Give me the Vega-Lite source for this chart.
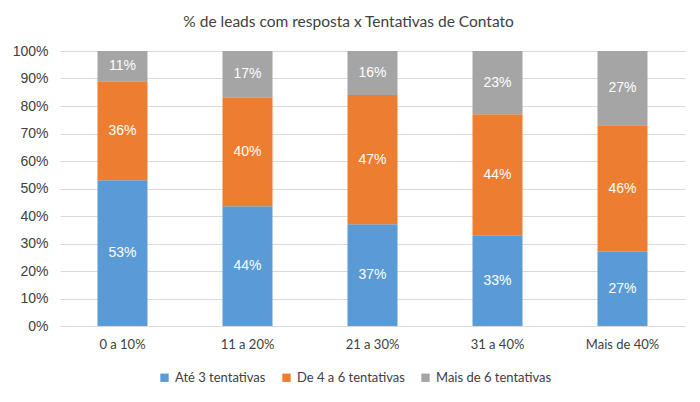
{
  "$schema": "https://vega.github.io/schema/vega-lite/v6.json",
  "width": 625,
  "height": 275,
  "autosize": {"type": "none"},
  "padding": {"left": 60, "top": 51, "right": 15, "bottom": 76},
  "background": "white",
  "title": {
    "text": "% de leads com resposta x Tentativas de Contato",
    "font": "Lato",
    "fontSize": 15.5,
    "fontWeight": "normal",
    "color": "#404040",
    "anchor": "middle",
    "frame": "bounds",
    "offset": 14
  },
  "data": {
    "values": [
      {"faixa": "0 a 10%", "serie": "Até 3 tentativas", "ordem": 1, "value": 0.53},
      {"faixa": "0 a 10%", "serie": "De 4 a 6 tentativas", "ordem": 2, "value": 0.36},
      {"faixa": "0 a 10%", "serie": "Mais de 6 tentativas", "ordem": 3, "value": 0.11},
      {"faixa": "11 a 20%", "serie": "Até 3 tentativas", "ordem": 1, "value": 0.44},
      {"faixa": "11 a 20%", "serie": "De 4 a 6 tentativas", "ordem": 2, "value": 0.40},
      {"faixa": "11 a 20%", "serie": "Mais de 6 tentativas", "ordem": 3, "value": 0.17},
      {"faixa": "21 a 30%", "serie": "Até 3 tentativas", "ordem": 1, "value": 0.37},
      {"faixa": "21 a 30%", "serie": "De 4 a 6 tentativas", "ordem": 2, "value": 0.47},
      {"faixa": "21 a 30%", "serie": "Mais de 6 tentativas", "ordem": 3, "value": 0.16},
      {"faixa": "31  a 40%", "serie": "Até 3 tentativas", "ordem": 1, "value": 0.33},
      {"faixa": "31  a 40%", "serie": "De 4 a 6 tentativas", "ordem": 2, "value": 0.44},
      {"faixa": "31  a 40%", "serie": "Mais de 6 tentativas", "ordem": 3, "value": 0.23},
      {"faixa": "Mais de 40%", "serie": "Até 3 tentativas", "ordem": 1, "value": 0.27},
      {"faixa": "Mais de 40%", "serie": "De 4 a 6 tentativas", "ordem": 2, "value": 0.46},
      {"faixa": "Mais de 40%", "serie": "Mais de 6 tentativas", "ordem": 3, "value": 0.27}
    ]
  },
  "encoding": {
    "x": {
      "field": "faixa",
      "type": "nominal",
      "sort": null,
      "scale": {"paddingInner": 0.6, "paddingOuter": 0.3},
      "axis": {
        "title": null,
        "labelAngle": 0,
        "labelFont": "Lato",
        "labelFontSize": 13,
        "labelColor": "#404040",
        "labelPadding": 12,
        "ticks": false,
        "domain": false
      }
    },
    "y": {
      "field": "value",
      "type": "quantitative",
      "stack": "normalize",
      "scale": {"domain": [0, 1], "nice": false},
      "axis": {
        "title": null,
        "format": ".0%",
        "values": [0, 0.1, 0.2, 0.3, 0.4, 0.5, 0.6, 0.7, 0.8, 0.9, 1],
        "labelFont": "Liberation Sans",
        "labelFontSize": 14,
        "labelColor": "#404040",
        "labelPadding": 12,
        "ticks": false,
        "domain": false,
        "gridColor": "#D9D9D9",
        "gridWidth": 1
      }
    },
    "order": {"field": "ordem", "type": "quantitative", "sort": "ascending"}
  },
  "layer": [
    {
      "mark": {"type": "bar"},
      "encoding": {
        "color": {
          "field": "serie",
          "type": "nominal",
          "scale": {
            "domain": ["Até 3 tentativas", "De 4 a 6 tentativas", "Mais de 6 tentativas"],
            "range": ["#5B9BD5", "#ED7D31", "#A5A5A5"]
          },
          "legend": {
            "title": null,
            "orient": "none",
            "legendX": 98,
            "legendY": 320,
            "direction": "horizontal",
            "symbolType": "square",
            "symbolSize": 70,
            "symbolStrokeWidth": 0,
            "labelFont": "Lato",
            "labelFontSize": 13,
            "labelColor": "#404040",
            "columnPadding": 14,
            "labelOffset": 4
          }
        }
      }
    },
    {
      "mark": {"type": "text", "color": "white", "font": "Liberation Sans", "fontSize": 14, "baseline": "middle"},
      "encoding": {
        "y": {
          "field": "value",
          "type": "quantitative",
          "stack": "normalize",
          "bandPosition": 0.5
        },
        "detail": {"field": "serie", "type": "nominal"},
        "text": {"field": "value", "type": "quantitative", "format": ".0%"}
      }
    }
  ],
  "config": {
    "view": {"stroke": null}
  }
}
